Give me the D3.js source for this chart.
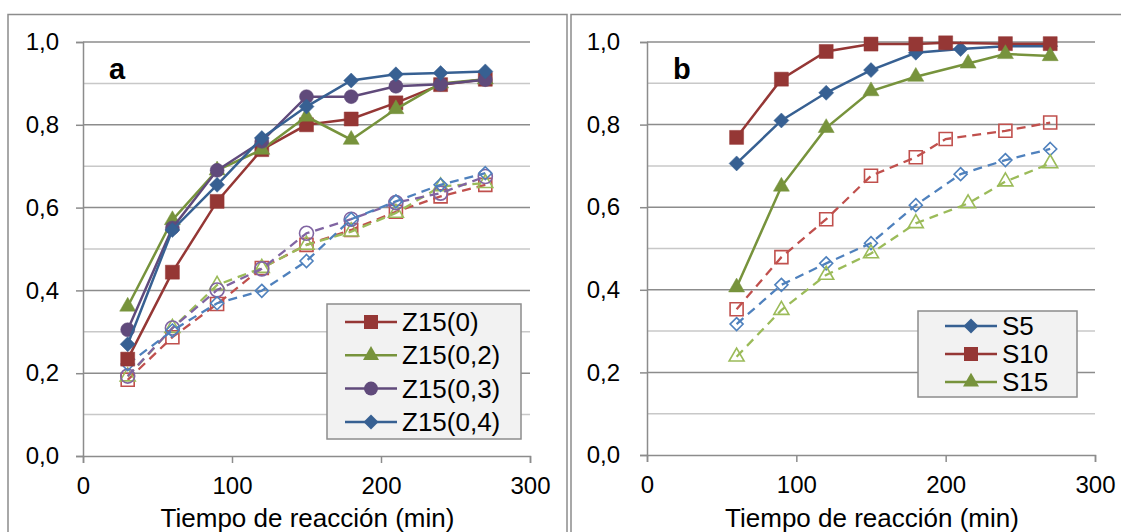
<!DOCTYPE html>
<html>
<head>
<meta charset="utf-8">
<script src="https://cdn.jsdelivr.net/npm/d3@7"></script>
<style>
  body { margin: 0; background: #fff; }
  text { font-family: "Liberation Sans", Arial, sans-serif; }
</style>
</head>
<body>
<div class="canvas"></div>
<script>
// panel a: tiempo (min) y conversiones
var timesA = [30, 60, 90, 120, 150, 180, 210, 240, 270];
var z15_0 = [0.234, 0.444, 0.615, 0.74, 0.80, 0.814, 0.853, 0.897, 0.91];
var z15_02 = [0.361, 0.57, 0.69, 0.74, 0.82, 0.764, 0.838, 0.90, 0.91];
var z15_03 = [0.305, 0.551, 0.69, 0.76, 0.868, 0.868, 0.893, 0.898, 0.909];
var z15_04 = [0.27, 0.546, 0.655, 0.768, 0.844, 0.907, 0.922, 0.925, 0.929];
var z15_0d = [0.184, 0.287, 0.367, 0.454, 0.51, 0.546, 0.59, 0.627, 0.655];
var z15_02d = [0.192, 0.309, 0.413, 0.454, 0.51, 0.542, 0.587, 0.651, 0.659];
var z15_03d = [0.193, 0.309, 0.401, 0.452, 0.538, 0.572, 0.612, 0.635, 0.675];
var z15_04d = [0.222, 0.303, 0.369, 0.399, 0.471, 0.572, 0.615, 0.655, 0.683];

// panel b
var timesS5 = [60, 90, 120, 150, 180, 210, 240, 270];
var timesS10 = [60, 90, 120, 150, 180, 200, 240, 270];
var timesS15 = [60, 90, 120, 150, 180, 215, 240, 270];
var s5 = [0.706, 0.81, 0.877, 0.932, 0.974, 0.983, 0.99, 0.99];
var s10 = [0.769, 0.91, 0.977, 0.995, 0.995, 0.998, 0.996, 0.996];
var s15 = [0.406, 0.65, 0.792, 0.881, 0.916, 0.948, 0.971, 0.966];
var s5d = [0.317, 0.412, 0.464, 0.513, 0.605, 0.68, 0.714, 0.741];
var s10d = [0.353, 0.479, 0.571, 0.676, 0.721, 0.765, 0.785, 0.805];
var s15d = [0.238, 0.351, 0.436, 0.488, 0.561, 0.609, 0.662, 0.706];

var xTicks = [0, 100, 200, 300];
var yMajor = [0, 0.2, 0.4, 0.6, 0.8, 1.0];
var yMinor = [0.1, 0.3, 0.5, 0.7, 0.9];
var xTitle = "Tiempo de reacción (min)";

var width = 1121;
var height = 532;
var dark = { red: "#953735", green: "#77933c", purple: "#604a7b", blue: "#376092" };
var light = { red: "#c0504d", green: "#9bbb59", purple: "#8064a2", blue: "#4f81bd" };

var fmt = d3.formatLocale({ decimal: ",", thousands: ".", grouping: [3], currency: ["", "€"] }).format(".1f");

var svg = d3.select(".canvas").append("svg")
  .attr("width", width).attr("height", height);

// marcos
svg.append("rect").attr("x", 8).attr("y", 14.5).attr("width", 559).attr("height", 540)
  .attr("fill", "none").attr("stroke", "#8c8c8c").attr("stroke-width", 1.5);
svg.append("rect").attr("x", 571).attr("y", 14.5).attr("width", 570).attr("height", 540)
  .attr("fill", "none").attr("stroke", "#8c8c8c").attr("stroke-width", 1.5);

function markerPath(shape, size) {
  if (shape === "square") return d3.symbol(d3.symbolSquare, size * size)();
  if (shape === "circle") return d3.symbol(d3.symbolCircle, Math.PI * size * size / 4)();
  if (shape === "triangle") return d3.symbol(d3.symbolTriangle, size * size * 0.433)();
  // diamond = rotated square
  var h = size / 2;
  return "M0," + (-h) + "L" + h + ",0L0," + h + "L" + (-h) + ",0Z";
}

function panel(opt) {
  var g = svg.append("g");
  var x = d3.scaleLinear().domain([0, 300]).range([opt.left, opt.right]);
  var y = d3.scaleLinear().domain([0, 1]).range([opt.bottom, opt.top]);

  // rejilla
  g.selectAll(".minor").data(yMinor).enter().append("line")
    .attr("x1", opt.left).attr("x2", opt.right)
    .attr("y1", d => y(d)).attr("y2", d => y(d))
    .attr("stroke", "#c8c8c8").attr("stroke-width", 1.5);
  g.selectAll(".major").data(yMajor.slice(1)).enter().append("line")
    .attr("x1", opt.left).attr("x2", opt.right)
    .attr("y1", d => y(d)).attr("y2", d => y(d))
    .attr("stroke", "#8c8c8c").attr("stroke-width", 1.5);

  var yAxis = d3.axisLeft(y).tickValues(yMajor).tickFormat(fmt).tickSize(7).tickPadding(opt.ypad);
  var ya = g.append("g").attr("transform", `translate(${opt.left},0)`).call(yAxis);
  var xAxis = d3.axisBottom(x).tickValues(xTicks).tickSize(7).tickPadding(14);
  var xa = g.append("g").attr("transform", `translate(0,${opt.bottom})`).call(xAxis);
  [ya, xa].forEach(function (a) {
    a.select(".domain").attr("stroke", "#8c8c8c").attr("stroke-width", 1.5);
    a.selectAll(".tick line").attr("stroke", "#8c8c8c").attr("stroke-width", 1.5);
    a.selectAll("text").attr("font-size", 24).attr("fill", "#000")
      .attr("font-family", "Liberation Sans, Arial, sans-serif");
  });

  g.append("text").attr("x", (opt.left + opt.right) / 2 + 1).attr("y", 527)
    .attr("text-anchor", "middle").attr("font-size", 26).text(xTitle);
  g.append("text").attr("x", opt.left + 26).attr("y", 79)
    .attr("font-size", 29).attr("font-weight", "bold").text(opt.label);

  var line = d3.line().x(d => x(d.t)).y(d => y(d.v));

  opt.series.forEach(function (s) {
    var pts = s.times.map((t, i) => ({ t: t, v: s.values[i] }));
    g.append("path").attr("d", line(pts)).attr("fill", "none")
      .attr("stroke", s.stroke).attr("stroke-width", s.dashed ? 2.3 : 2.5)
      .attr("stroke-dasharray", s.dashed ? "9,6" : null);
    g.selectAll(null).data(pts).enter().append("path")
      .attr("transform", d => `translate(${x(d.t)},${y(d.v)})`)
      .attr("d", markerPath(s.shape, s.size))
      .attr("fill", s.dashed ? "none" : s.fill)
      .attr("stroke", s.fill)
      .attr("stroke-width", s.dashed ? 1.6 : 0.5);
  });

  // leyenda
  var lg = g.append("g");
  lg.append("rect").attr("x", opt.legend.x).attr("y", opt.legend.y)
    .attr("width", opt.legend.w).attr("height", opt.legend.h)
    .attr("fill", "#f2f2f2").attr("stroke", "#8c8c8c").attr("stroke-width", 1.5);
  opt.legend.items.forEach(function (it, i) {
    var cy = opt.legend.y + opt.legend.first + i * opt.legend.step;
    var x0 = opt.legend.x + opt.legend.lx;
    lg.append("line").attr("x1", x0).attr("x2", x0 + 52).attr("y1", cy).attr("y2", cy)
      .attr("stroke", it.stroke).attr("stroke-width", 2.5);
    lg.append("path").attr("transform", `translate(${x0 + 26},${cy})`)
      .attr("d", markerPath(it.shape, it.size)).attr("fill", it.fill);
    lg.append("text").attr("x", x0 + 57).attr("y", cy).attr("dy", "0.35em")
      .attr("font-size", 26).text(it.name);
  });
}

var aSolid = [
  { name: "Z15(0)", values: z15_0, shape: "square", size: 14, c: "red" },
  { name: "Z15(0,2)", values: z15_02, shape: "triangle", size: 16, c: "green" },
  { name: "Z15(0,3)", values: z15_03, shape: "circle", size: 14, c: "purple" },
  { name: "Z15(0,4)", values: z15_04, shape: "diamond", size: 15, c: "blue" }
];
var aDash = [
  { values: z15_0d, shape: "square", size: 13, c: "red" },
  { values: z15_02d, shape: "triangle", size: 15, c: "green" },
  { values: z15_03d, shape: "circle", size: 14, c: "purple" },
  { values: z15_04d, shape: "diamond", size: 13, c: "blue" }
];

var seriesA = aDash.map(s => ({ times: timesA, values: s.values, shape: s.shape, size: s.size,
  dashed: true, stroke: light[s.c], fill: light[s.c] }))
  .concat(aSolid.map(s => ({ times: timesA, values: s.values, shape: s.shape, size: s.size,
  dashed: false, stroke: dark[s.c], fill: dark[s.c] })));

panel({
  left: 83, right: 530, top: 42, bottom: 456, ypad: 17, label: "a",
  series: seriesA,
  legend: {
    x: 327, y: 304, w: 194, h: 135, first: 18, step: 33.3, lx: 18,
    items: aSolid.map(s => ({ name: s.name, shape: s.shape, size: s.size, stroke: dark[s.c], fill: dark[s.c] }))
  }
});

var bSolid = [
  { name: "S5", times: timesS5, values: s5, shape: "diamond", size: 15, c: "blue" },
  { name: "S10", times: timesS10, values: s10, shape: "square", size: 14, c: "red" },
  { name: "S15", times: timesS15, values: s15, shape: "triangle", size: 16, c: "green" }
];
var bDash = [
  { times: timesS5, values: s5d, shape: "diamond", size: 13, c: "blue" },
  { times: timesS10, values: s10d, shape: "square", size: 13, c: "red" },
  { times: timesS15, values: s15d, shape: "triangle", size: 15, c: "green" }
];
var seriesB = bDash.map(s => ({ times: s.times, values: s.values, shape: s.shape, size: s.size,
  dashed: true, stroke: light[s.c], fill: light[s.c] }))
  .concat(bSolid.map(s => ({ times: s.times, values: s.values, shape: s.shape, size: s.size,
  dashed: false, stroke: dark[s.c], fill: dark[s.c] })));

panel({
  left: 647, right: 1095, top: 42, bottom: 455, ypad: 20, label: "b",
  series: seriesB,
  legend: {
    x: 918, y: 311, w: 159, h: 86, first: 15, step: 28, lx: 27,
    items: bSolid.map(s => ({ name: s.name, shape: s.shape, size: s.size, stroke: dark[s.c], fill: dark[s.c] }))
  }
});
</script>
</body>
</html>
